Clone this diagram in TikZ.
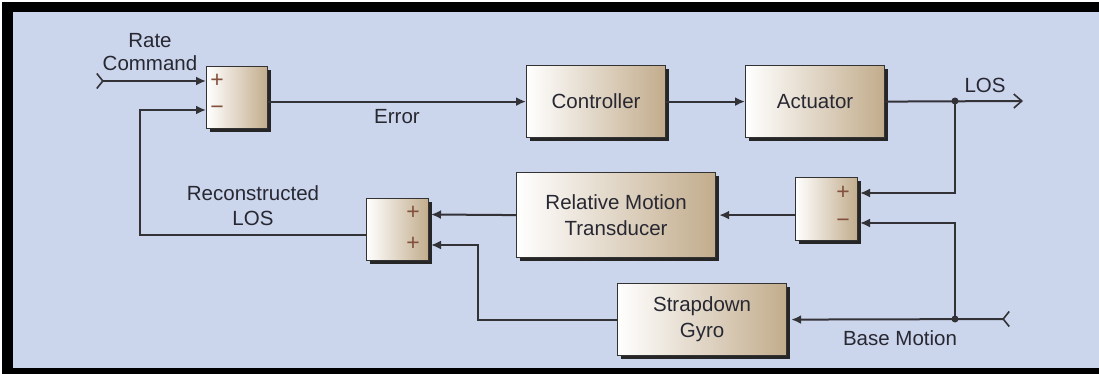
\documentclass[tikz,border=0pt]{standalone}
\usepackage{fontspec}
\setmainfont{Liberation Sans}
\usetikzlibrary{arrows.meta,shadows}
\definecolor{bg}{RGB}{203,213,236}
\definecolor{boxtan}{RGB}{194,172,140}
\definecolor{txtc}{RGB}{40,40,50}
\definecolor{signc}{RGB}{130,80,60}
\definecolor{wirec}{RGB}{50,50,55}
\begin{document}
\begin{tikzpicture}[x=1pt,y=-1pt,
  blk/.style={draw=black!80, line width=1.2pt, left color=white, right color=boxtan,
    anchor=north west, inner sep=0pt,
    general shadow={fill=black!85, shadow xshift=3pt, shadow yshift=-3pt},
    font=\fontsize{20.5}{26}\selectfont, text=txtc, align=center},
  wire/.style={draw=wirec, line width=2pt},
  arr/.style={wire, -{Latex[length=10pt,width=9pt]}},
  lbl/.style={font=\fontsize{20.5}{24}\selectfont, text=txtc, align=center, inner sep=0pt},
  sgn/.style={font=\fontsize{23}{23}\selectfont, text=signc, inner sep=0pt},
  jdot/.style={circle, fill=wirec, inner sep=0pt, minimum size=7pt}]
% background and frame
\useasboundingbox (0,0) rectangle (1099,374);
\fill[white] (0,0) rectangle (1099,374);
\fill[black] (2,2) rectangle (1099,12);
\fill[black] (2,2) rectangle (13,374);
\fill[black] (2,368) rectangle (1099,374);
\fill[bg] (13,12) rectangle (1099,368);
% blocks
\node[blk, minimum width=61pt, minimum height=62pt] (s1) at (206,66) {};
\node[blk, minimum width=139pt, minimum height=72pt] (ctrl) at (526,65) {Controller};
\node[blk, minimum width=139pt, minimum height=72pt] (act) at (745,65) {Actuator};
\node[blk, minimum width=62pt, minimum height=63pt] (s2) at (795,177) {};
\node[blk, minimum width=199pt, minimum height=85pt] (rmt) at (516,172) {Relative Motion\\Transducer};
\node[blk, minimum width=62pt, minimum height=62pt] (s3) at (366,198) {};
\node[blk, minimum width=169pt, minimum height=72pt] (gyro) at (617,283) {Strapdown\\Gyro};
% signs
\node[sgn] (s1p) at (217,81) {+};
\node[sgn] (s1m) at (217,110) {−};
\node[sgn] (s2p) at (843,193) {+};
\node[sgn] (s2m) at (843,223) {−};
\node[sgn] (s3p) at (413,213) {+};
\node[sgn] (s3q) at (413,244) {+};
% labels
\node[lbl] (rate) at (150,52) {Rate\\[-1pt]Command};
\node[lbl] (err) at (397,117) {Error};
\node[lbl] (los) at (985,85) {LOS};
\node[lbl] (rlos) at (253,206) {Reconstructed\\[1pt]LOS};
\node[lbl] (base) at (900,338) {Base Motion};
% ports
\coordinate (rc) at (96,81);
\coordinate (s1a) at (206,81);
\coordinate (s1b) at (206,110);
\coordinate (fb) at (140,110);
\coordinate (losend) at (1023,101);
\coordinate (s2a) at (860,193);
\coordinate (s2b) at (860,223);
\coordinate (bm) at (1010,319);
\coordinate (s3a) at (431,214.5);
\coordinate (s3b) at (431,245);
\coordinate (gk) at (478,280);
\node[jdot] (j1) at (955,101) {};
\node[jdot] (j2) at (955,319) {};
% connectors
\draw[wire, {Straight Barb[reversed,length=6pt,width=15pt,line width=1.6pt]}-{Latex[length=10pt,width=9pt]}] (rc) -- (s1a);
\draw[arr] (s1.east |- ctrl.west) -- (ctrl.west);
\draw[arr] (ctrl.east) -- (act.west);
\draw[wire, -{Straight Barb[length=8pt,width=14pt,line width=1.6pt]}] (act.east) -- (losend);
\draw[arr] (j1.center) |- (s2a);
\draw[arr] (j2.center) |- (s2b);
\draw[wire, {Straight Barb[reversed,length=6pt,width=15pt,line width=1.6pt]}-{Latex[length=10pt,width=9pt]}] (bm) -- ([xshift=4pt]gyro.east);
\draw[arr] (s2.west |- rmt.east) -- ([xshift=3pt]rmt.east);
\draw[arr] (rmt.west) -- (s3a);
\draw[arr] (gyro.west) -| (gk) |- (s3b);
\draw[arr] ([yshift=-5pt]s3.west) -| (fb) -- (s1b);
\end{tikzpicture}
\end{document}
